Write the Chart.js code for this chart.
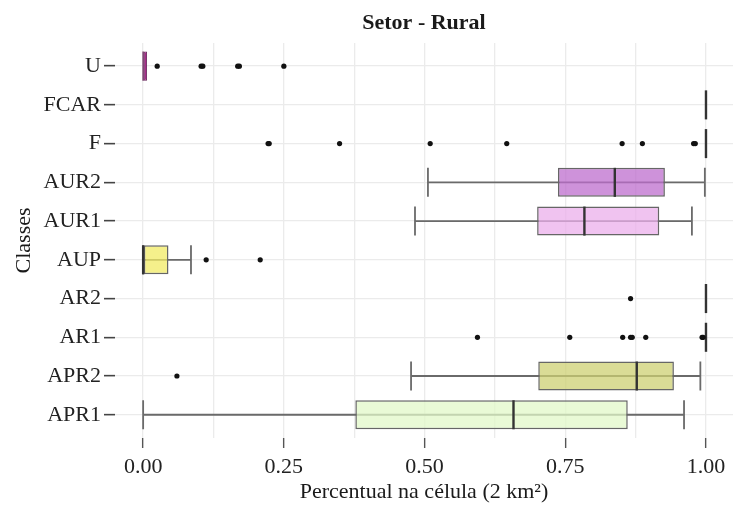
<!DOCTYPE html>
<html>
<head>
<meta charset="utf-8">
<script src="https://cdn.jsdelivr.net/npm/chart.js@4/dist/chart.umd.min.js"></script>
<style>
  html, body { margin: 0; padding: 0; background: #ffffff; }
  #wrap { width: 733px; height: 505px; position: relative; }
</style>
</head>
<body>
<div id="wrap"><canvas id="c" width="733" height="505"></canvas></div>
<script>
// ---- data (categories from bottom to top) ----
const categories  = ['APR1', 'APR2', 'AR1', 'AR2', 'AUP', 'AUR1', 'AUR2', 'F', 'FCAR', 'U'];
const whiskerLow  = [0.000, 0.476, 1.000, 1.000, 0.000, 0.483, 0.506, 1.000, 1.000, 0.000];
const q1          = [0.377, 0.702, 1.000, 1.000, 0.000, 0.700, 0.737, 1.000, 1.000, 0.000];
const median      = [0.658, 0.877, 1.000, 1.000, 0.000, 0.784, 0.838, 1.000, 1.000, 0.000];
const q3          = [0.861, 0.943, 1.000, 1.000, 0.045, 0.917, 0.927, 1.000, 1.000, 0.007];
const whiskerHigh = [0.961, 0.990, 1.000, 1.000, 0.085, 0.975, 0.998, 1.000, 1.000, 0.007];

const outliersAPR2 = [0.060];
const outliersAR1  = [0.594, 0.758, 0.852, 0.866, 0.869, 0.893, 0.993, 0.995];
const outliersAR2  = [0.866];
const outliersAUP  = [0.112, 0.208];
const outliersF    = [0.222, 0.224, 0.349, 0.510, 0.646, 0.851, 0.887, 0.978, 0.981];
const outliersU    = [0.025, 0.103, 0.106, 0.168, 0.171, 0.250];

const xTickValues = [0, 0.25, 0.5, 0.75, 1];
const xTickLabels = ['0.00', '0.25', '0.50', '0.75', '1.00'];
const xGridValues = [0, 0.125, 0.25, 0.375, 0.5, 0.625, 0.75, 0.875, 1];

// ---- styles ----
const boxFill = {
  APR1: 'rgba(225,248,200,0.75)',
  APR2: 'rgba(205,208,115,0.75)',
  AR1:  'rgba(200,200,200,0.75)',
  AR2:  'rgba(200,200,200,0.75)',
  AUP:  'rgba(242,235,100,0.75)',
  AUR1: 'rgba(235,175,235,0.75)',
  AUR2: 'rgba(190,110,205,0.75)',
  F:    'rgba(200,200,200,0.75)',
  FCAR: 'rgba(200,200,200,0.75)',
  U:    'rgba(170,45,140,1)'
};
const boxBorder = { U: '#6a2a5e' };
const FONT = 'Liberation Serif';

// ---- build datasets from the arrays ----
const boxData = categories.map((c, i) => ({ x: [q1[i], q3[i]], y: i + 1 }));
const outlierSets = { APR2: outliersAPR2, AR1: outliersAR1, AR2: outliersAR2, AUP: outliersAUP, F: outliersF, U: outliersU };
const outlierData = [];
Object.keys(outlierSets).forEach(k => {
  const pos = categories.indexOf(k) + 1;
  outlierSets[k].forEach(v => outlierData.push({ x: v, y: pos }));
});

const boxParts = {
  id: 'boxParts',
  beforeDatasetsDraw(chart) {
    const { ctx, scales: { x, y } } = chart;
    const half = Math.abs(y.getPixelForValue(0) - y.getPixelForValue(0.375));
    ctx.save();
    ctx.strokeStyle = '#6a6a6a';
    ctx.lineWidth = 1.8;
    categories.forEach((c, i) => {
      if (whiskerHigh[i] - whiskerLow[i] < 0.02) return;
      const yp = y.getPixelForValue(i + 1);
      const x0 = x.getPixelForValue(whiskerLow[i]);
      const x1 = x.getPixelForValue(whiskerHigh[i]);
      ctx.beginPath();
      ctx.moveTo(x0, yp); ctx.lineTo(x1, yp);
      ctx.moveTo(x0, yp - half); ctx.lineTo(x0, yp + half);
      ctx.moveTo(x1, yp - half); ctx.lineTo(x1, yp + half);
      ctx.stroke();
    });
    ctx.restore();
  },
  afterDatasetDraw(chart, args) {
    if (args.meta.type !== 'bar') return;
    const { ctx, scales: { x, y } } = chart;
    const half = Math.abs(y.getPixelForValue(0) - y.getPixelForValue(0.375));
    ctx.save();
    ctx.lineWidth = 2.4;
    categories.forEach((c, i) => {
      const yp = y.getPixelForValue(i + 1);
      const xm = x.getPixelForValue(median[i]);
      ctx.strokeStyle = boxBorder[c] || '#333333';
      ctx.lineWidth = boxBorder[c] ? 1.4 : 2.4;
      ctx.beginPath();
      ctx.moveTo(xm, yp - half); ctx.lineTo(xm, yp + half);
      ctx.stroke();
    });
    ctx.restore();
  }
};

new Chart(document.getElementById('c'), {
  type: 'bar',
  data: {
    datasets: [
      {
        type: 'scatter',
        data: outlierData,
        order: 0,
        pointRadius: 2.6,
        pointBackgroundColor: '#111111',
        pointBorderWidth: 0,
        showLine: false
      },
      {
        type: 'bar',
        data: boxData,
        order: 1,
        backgroundColor: categories.map(c => boxFill[c]),
        borderColor: categories.map(c => boxBorder[c] || '#666666'),
        borderWidth: categories.map(c => (boxBorder[c] ? 1 : 1.5)),
        borderSkipped: false,
        categoryPercentage: 1,
        barPercentage: 0.75
      }
    ]
  },
  options: {
    indexAxis: 'y',
    responsive: false,
    animation: false,
    layout: { padding: 0, autoPadding: false },
    plugins: {
      legend: { display: false },
      tooltip: { enabled: false },
      title: {
        display: true,
        text: 'Setor - Rural',
        fullSize: false,
        color: '#1a1a1a',
        font: { family: FONT, size: 22, weight: 'bold' },
        padding: { top: 10, bottom: 6.5 }
      }
    },
    scales: {
      x: {
        type: 'linear',
        min: -0.05,
        max: 1.048,
        offset: false,
        afterBuildTicks: s => { s.ticks = xGridValues.map(v => ({ value: v })); },
        afterFit: s => { s.height = 67; },
        border: { display: false },
        grid: {
          color: '#ebebeb',
          lineWidth: 1.3,
          offset: false,
          drawTicks: true,
          tickLength: 10,
          tickWidth: 1.4,
          tickColor: ctx => (xTickValues.indexOf(ctx.tick && ctx.tick.value) >= 0 ? '#555555' : 'rgba(0,0,0,0)')
        },
        ticks: {
          autoSkip: false,
          maxRotation: 0,
          padding: 6,
          color: '#222222',
          font: { family: FONT, size: 22 },
          callback: v => { const k = xTickValues.indexOf(v); return k >= 0 ? xTickLabels[k] : ''; }
        },
        title: {
          display: true,
          text: 'Percentual na célula (2 km²)',
          color: '#1a1a1a',
          font: { family: FONT, size: 22 },
          padding: { top: 0, bottom: 0 }
        }
      },
      y: {
        type: 'linear',
        min: 0.4,
        max: 10.6,
        offset: false,
        afterBuildTicks: s => { s.ticks = categories.map((c, i) => ({ value: i + 1 })); },
        afterFit: s => { s.width = 115; },
        border: { display: false },
        grid: {
          color: '#ebebeb',
          lineWidth: 1.3,
          offset: false,
          drawTicks: true,
          tickLength: 11,
          tickWidth: 1.6,
          tickColor: '#444444'
        },
        ticks: {
          autoSkip: false,
          padding: 3,
          color: '#222222',
          font: { family: FONT, size: 22 },
          callback: v => categories[Math.round(v) - 1]
        },
        title: {
          display: true,
          text: 'Classes',
          color: '#1a1a1a',
          font: { family: FONT, size: 22 },
          padding: { top: 11, bottom: 0 }
        }
      }
    }
  },
  plugins: [boxParts]
});
</script>
</body>
</html>
